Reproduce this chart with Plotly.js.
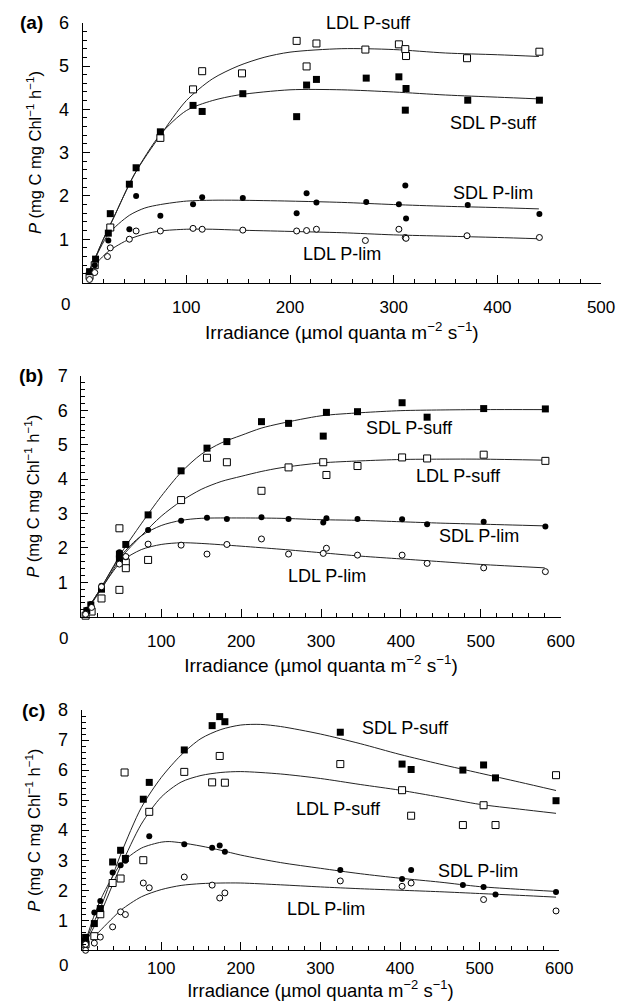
<!DOCTYPE html>
<html><head><meta charset="utf-8">
<script src="https://cdn.plot.ly/plotly-3.0.1.min.js"></script>
<style>html,body{margin:0;padding:0;background:#fff}#chart{width:617px;height:1001px}</style>
</head><body><div id="chart"></div>
<script>
// ---------- Panel (a) ----------
const aLdlSuffX = [6.7, 11.7, 26.7, 75, 106.5, 115.3, 153.7, 206.4, 216, 225.5, 272.7, 305, 311.2, 311.9, 370.7, 440.5];
const aLdlSuffY = [0.15, 0.40, 1.27, 3.34, 4.46, 4.88, 4.83, 5.58, 4.99, 5.52, 5.38, 5.50, 5.39, 5.23, 5.18, 5.33];
const aSdlSuffX = [6.7, 12.5, 24.8, 26.7, 45.1, 51.6, 75, 106.5, 115.3, 154.5, 206.4, 216, 225.5, 273.5, 305, 311.9, 311.2, 371.4, 440.5];
const aSdlSuffY = [0.25, 0.54, 1.14, 1.59, 2.27, 2.65, 3.48, 4.09, 3.95, 4.36, 3.83, 4.56, 4.69, 4.72, 4.75, 4.48, 3.98, 4.21, 4.21];
const aSdlLimX = [11.7, 24.8, 45.1, 51.6, 75, 106.5, 115.3, 154.5, 206.4, 216, 225.5, 273.5, 305, 311.2, 311.9, 371.4, 440.5];
const aSdlLimY = [0.40, 0.97, 1.23, 2.00, 1.54, 1.81, 1.97, 1.95, 1.60, 2.06, 1.85, 1.86, 1.81, 2.24, 1.48, 1.79, 1.58];
const aLdlLimX = [6.7, 11.7, 24, 26.7, 45.1, 51.6, 75, 106.5, 115.3, 154.5, 206.4, 216, 225.5, 272.7, 305, 311.2, 311.9, 370.7, 440.5];
const aLdlLimY = [0.07, 0.23, 0.60, 0.80, 1.00, 1.19, 1.19, 1.25, 1.23, 1.21, 1.19, 1.20, 1.23, 0.97, 1.23, 1.04, 1.02, 1.08, 1.04];
// fitted curves (a)
const aFitLdlSuffX = [5, 10, 20, 30, 50, 75, 100, 125, 150, 175, 200, 250, 300, 350, 400, 440];
const aFitLdlSuffY = [0.2, 0.45, 1.0, 1.5, 2.5, 3.4, 4.2, 4.7, 5.0, 5.2, 5.32, 5.4, 5.38, 5.3, 5.26, 5.22];
const aFitSdlSuffX = [5, 10, 20, 30, 50, 75, 100, 125, 150, 200, 250, 300, 350, 400, 440];
const aFitSdlSuffY = [0.2, 0.45, 1.0, 1.5, 2.5, 3.42, 3.97, 4.2, 4.33, 4.45, 4.45, 4.4, 4.33, 4.28, 4.24];
const aFitSdlLimX = [5, 10, 25, 45, 60, 75, 100, 125, 150, 200, 250, 300, 350, 400, 440];
const aFitSdlLimY = [0.2, 0.45, 1.12, 1.55, 1.72, 1.8, 1.88, 1.9, 1.9, 1.88, 1.85, 1.8, 1.76, 1.73, 1.7];
const aFitLdlLimX = [5, 10, 25, 45, 60, 75, 100, 125, 150, 200, 250, 300, 350, 400, 440];
const aFitLdlLimY = [0.15, 0.35, 0.72, 1.0, 1.12, 1.19, 1.23, 1.23, 1.21, 1.18, 1.15, 1.1, 1.07, 1.04, 1.01];

// ---------- Panel (b) ----------
const bSdlSuffX = [6.9, 11.9, 25.3, 47.7, 47.7, 55.7, 83.6, 124.9, 157.3, 182.2, 225.5, 259.4, 302.8, 306.8, 345.7, 401.5, 432.8, 503.6, 580.8];
const bSdlSuffY = [0.17, 0.34, 0.80, 1.82, 1.68, 2.10, 2.96, 4.24, 4.90, 5.09, 5.67, 5.62, 5.25, 5.94, 5.96, 6.22, 5.80, 6.05, 6.04];
const bLdlSuffX = [5.4, 12.9, 25.3, 47.7, 47.7, 55.7, 55.7, 83.6, 124.9, 157.3, 182.2, 225.5, 259.4, 302.8, 306.8, 345.7, 401.5, 432.8, 503.6, 580.8];
const bLdlSuffY = [0.03, 0.15, 0.53, 2.57, 0.78, 1.58, 1.41, 1.65, 3.39, 4.62, 4.49, 3.66, 4.34, 4.49, 4.12, 4.38, 4.63, 4.60, 4.71, 4.53];
const bSdlLimX = [6.9, 11.9, 25.3, 47.7, 55.7, 83.6, 124.9, 157.3, 182.2, 225.5, 259.4, 302.8, 306.8, 345.7, 401.5, 432.8, 503.6, 580.8];
const bSdlLimY = [0.20, 0.37, 0.90, 1.87, 1.73, 2.52, 2.79, 2.88, 2.84, 2.89, 2.84, 2.74, 2.86, 2.84, 2.83, 2.69, 2.76, 2.62];
const bLdlLimX = [5.4, 12.9, 25.3, 47.7, 55.7, 83.6, 124.9, 157.3, 182.2, 225.5, 259.4, 302.8, 306.8, 345.7, 401.5, 432.8, 503.6, 580.8];
const bLdlLimY = [0.07, 0.27, 0.87, 1.53, 1.75, 2.11, 2.08, 1.82, 2.10, 2.26, 1.82, 1.84, 1.99, 1.79, 1.79, 1.55, 1.42, 1.31];
// fitted curves (b)
const bFitSdlSuffX = [5, 10, 25, 50, 75, 100, 125, 150, 175, 200, 225, 250, 300, 350, 400, 450, 500, 580];
const bFitSdlSuffY = [0.12, 0.3, 0.85, 1.85, 2.7, 3.5, 4.2, 4.72, 5.05, 5.27, 5.48, 5.62, 5.84, 5.93, 5.99, 6.01, 6.02, 6.02];
const bFitLdlSuffX = [5, 10, 25, 50, 75, 100, 125, 150, 175, 200, 225, 250, 300, 350, 400, 450, 500, 580];
const bFitLdlSuffY = [0.1, 0.28, 0.8, 1.72, 2.35, 2.92, 3.36, 3.7, 3.93, 4.08, 4.22, 4.33, 4.47, 4.53, 4.57, 4.58, 4.58, 4.55];
const bFitSdlLimX = [5, 10, 25, 50, 75, 100, 125, 150, 200, 250, 300, 350, 400, 450, 500, 580];
const bFitSdlLimY = [0.12, 0.3, 0.85, 1.78, 2.35, 2.65, 2.8, 2.86, 2.87, 2.86, 2.82, 2.8, 2.76, 2.72, 2.69, 2.64];
const bFitLdlLimX = [5, 10, 25, 50, 75, 100, 125, 150, 200, 250, 300, 350, 400, 450, 500, 580];
const bFitLdlLimY = [0.12, 0.3, 0.82, 1.6, 1.95, 2.1, 2.15, 2.13, 2.05, 1.96, 1.86, 1.76, 1.68, 1.6, 1.52, 1.42];

// ---------- Panel (c) ----------
const cSdlSuffX = [5, 5, 16, 23.5, 39, 49, 55, 77.5, 85, 129, 164, 173.5, 180, 325, 402.6, 414, 479, 505, 520, 596];
const cSdlSuffY = [0.28, 0.43, 0.89, 1.39, 2.94, 3.33, 3.06, 5.03, 5.59, 6.67, 7.48, 7.78, 7.61, 7.26, 6.20, 6.02, 6.00, 6.17, 5.74, 4.98];
const cLdlSuffX = [5, 16, 23.5, 39, 49, 54, 77.5, 85, 129, 164, 173.5, 180, 325, 402.6, 414, 479, 505, 520, 596];
const cLdlSuffY = [0.20, 0.47, 1.20, 2.24, 2.39, 5.92, 3.00, 4.61, 5.94, 5.59, 6.47, 5.58, 6.20, 5.33, 4.48, 4.17, 4.83, 4.17, 5.83];
const cSdlLimX = [5, 16, 23.5, 39, 49, 55, 85, 129, 164, 173.5, 180, 325, 402.6, 414, 479, 505, 520, 596];
const cSdlLimY = [0.39, 1.26, 1.64, 2.59, 2.83, 2.98, 3.80, 3.53, 3.41, 3.49, 3.28, 2.67, 2.37, 2.67, 2.17, 2.11, 1.86, 1.94];
const cLdlLimX = [5, 5, 16, 23.5, 39, 49, 55, 77.5, 85, 129, 164, 173.5, 180, 325, 402.6, 414, 505, 596];
const cLdlLimY = [0.00, 0.20, 0.24, 0.44, 0.78, 1.28, 1.19, 2.24, 2.08, 2.44, 2.17, 1.74, 1.91, 2.31, 2.13, 2.24, 1.69, 1.31];
// fitted curves (c)
const cFitSdlSuffX = [5, 15, 25, 40, 50, 75, 100, 125, 150, 175, 200, 225, 250, 300, 350, 400, 450, 500, 550, 596];
const cFitSdlSuffY = [0.3, 0.9, 1.5, 2.55, 3.25, 4.75, 5.75, 6.5, 7.05, 7.35, 7.5, 7.52, 7.45, 7.2, 6.88, 6.52, 6.2, 5.9, 5.6, 5.32];
const cFitLdlSuffX = [5, 15, 25, 40, 50, 75, 100, 125, 150, 175, 200, 250, 300, 350, 400, 450, 500, 550, 596];
const cFitLdlSuffY = [0.25, 0.75, 1.3, 2.25, 2.85, 4.2, 5.1, 5.6, 5.82, 5.92, 5.95, 5.87, 5.72, 5.52, 5.33, 5.1, 4.86, 4.7, 4.56];
const cFitSdlLimX = [5, 15, 25, 40, 50, 75, 100, 110, 125, 150, 175, 200, 250, 300, 350, 400, 450, 500, 550, 596];
const cFitSdlLimY = [0.3, 1.1, 1.75, 2.5, 2.9, 3.4, 3.6, 3.62, 3.58, 3.47, 3.33, 3.17, 2.92, 2.73, 2.55, 2.4, 2.27, 2.12, 2.03, 1.96];
const cFitLdlLimX = [16, 25, 40, 50, 75, 100, 125, 150, 175, 200, 250, 300, 350, 400, 450, 500, 550, 596];
const cFitLdlLimY = [0.45, 0.7, 1.1, 1.35, 1.78, 2.02, 2.16, 2.22, 2.24, 2.24, 2.18, 2.11, 2.05, 2.0, 1.95, 1.89, 1.83, 1.77];

// ---------- labels ----------
const panelLabels = ['(a)', '(b)', '(c)'];
const seriesNames = ['LDL P-suff', 'SDL P-suff', 'SDL P-lim', 'LDL P-lim'];
const xTickVals = [[100, 200, 300, 400, 500], [100, 200, 300, 400, 500, 600], [100, 200, 300, 400, 500, 600]];
const yTickVals = [[1, 2, 3, 4, 5, 6], [1, 2, 3, 4, 5, 6, 7], [1, 2, 3, 4, 5, 6, 7, 8]];
const xTitle = 'Irradiance (µmol quanta m<sup>−2</sup> s<sup>−1</sup>)';
const yTitle = '<i>P</i> (mg C mg Chl<sup>−1</sup> h<sup>−1</sup>)';

const W = 617, H = 1001;
const FONT = 'Liberation Sans, Arial, Helvetica, sans-serif';
const fx = p => p / W, fy = p => 1 - p / H;

const styles = {
  'LDL P-suff': {symbol: 'square', size: 7, color: 'white', line: {color: 'black', width: 1}},
  'SDL P-suff': {symbol: 'square', size: 7, color: 'black', line: {color: 'black', width: 0}},
  'SDL P-lim': {symbol: 'circle', size: 6, color: 'black', line: {color: 'black', width: 0}},
  'LDL P-lim': {symbol: 'circle', size: 6, color: 'white', line: {color: 'black', width: 1}}
};

const panelData = [
  {pts: {'LDL P-suff': [aLdlSuffX, aLdlSuffY], 'SDL P-suff': [aSdlSuffX, aSdlSuffY], 'SDL P-lim': [aSdlLimX, aSdlLimY], 'LDL P-lim': [aLdlLimX, aLdlLimY]},
   fit: {'LDL P-suff': [aFitLdlSuffX, aFitLdlSuffY], 'SDL P-suff': [aFitSdlSuffX, aFitSdlSuffY], 'SDL P-lim': [aFitSdlLimX, aFitSdlLimY], 'LDL P-lim': [aFitLdlLimX, aFitLdlLimY]}},
  {pts: {'LDL P-suff': [bLdlSuffX, bLdlSuffY], 'SDL P-suff': [bSdlSuffX, bSdlSuffY], 'SDL P-lim': [bSdlLimX, bSdlLimY], 'LDL P-lim': [bLdlLimX, bLdlLimY]},
   fit: {'LDL P-suff': [bFitLdlSuffX, bFitLdlSuffY], 'SDL P-suff': [bFitSdlSuffX, bFitSdlSuffY], 'SDL P-lim': [bFitSdlLimX, bFitSdlLimY], 'LDL P-lim': [bFitLdlLimX, bFitLdlLimY]}},
  {pts: {'LDL P-suff': [cLdlSuffX, cLdlSuffY], 'SDL P-suff': [cSdlSuffX, cSdlSuffY], 'SDL P-lim': [cSdlLimX, cSdlLimY], 'LDL P-lim': [cLdlLimX, cLdlLimY]},
   fit: {'LDL P-suff': [cFitLdlSuffX, cFitLdlSuffY], 'SDL P-suff': [cFitSdlSuffX, cFitSdlSuffY], 'SDL P-lim': [cFitSdlLimX, cFitSdlLimY], 'LDL P-lim': [cFitLdlLimX, cFitLdlLimY]}}
];

// layout geometry (pixels)
const geo = [
  {x0: 82.6, x1: 601.1, yb: 282.5, yt: 22.7, xr: [0, 500], yr: [0, 6], lab: [31, 22.7], zero: [65, 304.5], xts: 9, xls: 9, tfs: 19,
   ann: {'LDL P-suff': [276, 6.0], 'SDL P-suff': [396, 3.68], 'SDL P-lim': [396, 2.07], 'LDL P-lim': [250, 0.66]}},
  {x0: 81.3, x1: 560.7, yb: 616.7, yt: 375.9, xr: [0, 600], yr: [0, 7], lab: [31, 375.5], zero: [63.5, 638.5], xts: 8, xls: 9, tfs: 19,
   ann: {'SDL P-suff': [411, 5.49], 'LDL P-suff': [472, 4.1], 'SDL P-lim': [498, 2.35], 'LDL P-lim': [307, 1.19]}},
  {x0: 81.6, x1: 559.2, yb: 950.3, yt: 710, xr: [0, 600], yr: [0, 8], lab: [33, 710], zero: [63.5, 965], xts: 8, xls: 2, tfs: 18.5,
   ann: {'SDL P-suff': [407, 7.39], 'LDL P-suff': [323, 4.72], 'SDL P-lim': [498, 2.64], 'LDL P-lim': [307, 1.37]}}
];

const traces = [];
const annotations = [];
const layout = {
  width: W, height: H, margin: {l: 0, r: 0, t: 0, b: 0},
  paper_bgcolor: 'white', plot_bgcolor: 'white', showlegend: false,
  font: {family: FONT, color: 'black', size: 17}
};

panelData.forEach((pd, i) => {
  const sfx = i === 0 ? '' : String(i + 1);
  const xa = 'x' + sfx, ya = 'y' + sfx;
  const g = geo[i];
  seriesNames.forEach(n => {
    traces.push({type: 'scatter', mode: 'lines', x: pd.fit[n][0], y: pd.fit[n][1], xaxis: xa, yaxis: ya,
      line: {color: '#222', width: 1, shape: 'spline', smoothing: 0.8}, hoverinfo: 'skip', name: n + ' fit'});
  });
  seriesNames.forEach(n => {
    traces.push({type: 'scatter', mode: 'markers', x: pd.pts[n][0], y: pd.pts[n][1], xaxis: xa, yaxis: ya,
      marker: styles[n], cliponaxis: false, name: n});
  });
  layout['xaxis' + sfx] = {
    domain: [fx(g.x0), fx(g.x1)], range: g.xr, anchor: ya,
    showline: true, linecolor: 'black', linewidth: 1, showgrid: false, zeroline: false,
    ticks: 'inside', ticklen: 8, tickwidth: 1, tickcolor: 'black',
    tickmode: 'array', tickvals: xTickVals[i], ticktext: xTickVals[i].map(String),
    minor: {tickmode: 'linear', tick0: 0, dtick: 20, ticks: 'inside', ticklen: 4, tickwidth: 1, tickcolor: 'black', showgrid: false},
    tickfont: {family: FONT, size: 17, color: 'black'}, ticklabelstandoff: g.xls,
    title: {text: xTitle, font: {family: FONT, size: g.tfs, color: 'black'}, standoff: g.xts},
    automargin: false, fixedrange: true
  };
  layout['yaxis' + sfx] = {
    domain: [fy(g.yb), fy(g.yt)], range: g.yr, anchor: xa,
    showline: true, linecolor: 'black', linewidth: 1, showgrid: false, zeroline: false,
    ticks: 'inside', ticklen: 7, tickwidth: 1, tickcolor: 'black',
    tickmode: 'array', tickvals: yTickVals[i], ticktext: yTickVals[i].map(String),
    minor: {tickmode: 'linear', tick0: 0, dtick: 0.2, ticks: 'inside', ticklen: 4, tickwidth: 1, tickcolor: 'black', showgrid: false},
    tickfont: {family: FONT, size: 18, color: 'black'}, ticklabelstandoff: 9,
    title: {text: yTitle, font: {family: FONT, size: 16.5, color: 'black'}, standoff: 13},
    automargin: false, fixedrange: true
  };
  annotations.push({xref: 'paper', yref: 'paper', x: fx(g.lab[0]), y: fy(g.lab[1]), text: '<b>' + panelLabels[i] + '</b>',
    showarrow: false, xanchor: 'center', yanchor: 'middle', font: {family: FONT, size: 19, color: 'black'}});
  annotations.push({xref: 'paper', yref: 'paper', x: fx(g.zero[0]), y: fy(g.zero[1]), text: '0',
    showarrow: false, xanchor: 'center', yanchor: 'middle', font: {family: FONT, size: 17, color: 'black'}});
  Object.keys(g.ann).forEach(n => {
    annotations.push({xref: xa, yref: ya, x: g.ann[n][0], y: g.ann[n][1], text: n, showarrow: false,
      xanchor: 'center', yanchor: 'middle', font: {family: FONT, size: 18, color: 'black'}});
  });
});
layout.annotations = annotations;

Plotly.newPlot('chart', traces, layout, {staticPlot: true, displayModeBar: false});
</script></body></html>
